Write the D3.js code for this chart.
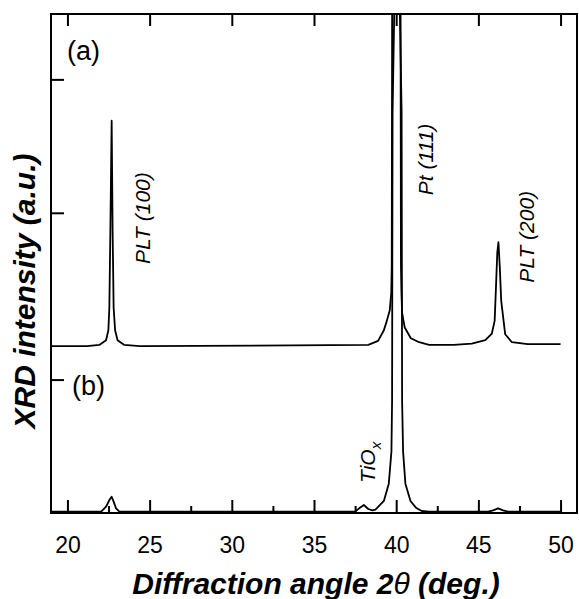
<!DOCTYPE html>
<html>
<head>
<meta charset="utf-8">
<script src="https://cdn.jsdelivr.net/npm/d3@7"></script>
<style>
  html, body { margin: 0; padding: 0; background: #fff; }
  svg { display: block; }
  text { font-family: "Liberation Sans", Arial, sans-serif; fill: #000; }
</style>
</head>
<body>
<div id="chart"></div>
<script>
// diffraction angle 2θ (deg.) and intensity (a.u.)
const angleA = [19, 21.2, 21.94, 22.35, 22.49, 22.55, 22.61, 22.69, 22.75, 22.81, 22.9, 23.05, 23.46, 24.4,
  38.3, 38.9, 39.25, 39.43, 39.61, 39.7, 39.73, 39.76, 39.98, 40.26, 40.29, 40.32, 40.36, 40.52, 40.89, 41.4, 42.0,
  43.5, 44.6, 45.42, 45.82, 45.99, 46.07, 46.15, 46.22, 46.3, 46.39, 46.63, 47.04, 48.0, 50];
const intensityA = [0, 0, 0.01, 0.045, 0.12, 0.29, 0.85, 1.69, 0.85, 0.29, 0.12, 0.045, 0.01, 0,
  0.01, 0.04, 0.12, 0.19, 0.27, 0.4, 0.6, 3, 5, 3, 0.6, 0.4, 0.25, 0.14, 0.06, 0.03, 0.01,
  0.01, 0.02, 0.045, 0.095, 0.19, 0.44, 0.7, 0.78, 0.6, 0.34, 0.09, 0.03, 0.015, 0.015];
const offsetA = 1.25;

const angleB = [19, 22.05, 22.35, 22.55, 22.69, 22.81, 22.96, 23.16,
  37.5, 37.75, 38.03, 38.3, 38.55, 38.74, 39.25, 39.55, 39.71, 39.75, 39.78, 40.05, 40.33, 40.36, 40.42, 40.56, 40.87, 41.2, 41.55, 42.0,
  45.6, 45.9, 46.2, 46.5, 46.8, 50];
const intensityB = [0.01, 0.01, 0.047, 0.097, 0.122, 0.085, 0.035, 0.01,
  0.01, 0.035, 0.06, 0.03, 0.02, 0.025, 0.09, 0.22, 0.46, 0.84, 3.0, 5, 3.0, 0.84, 0.46, 0.22, 0.09, 0.04, 0.015, 0.01,
  0.01, 0.02, 0.035, 0.02, 0.01, 0.01];

const majorTicks = [20, 25, 30, 35, 40, 45, 50];
const minorTicks = [22.5, 27.5, 32.5, 37.5, 42.5, 47.5];
const yTicks = [1, 2.25, 3.25];

const width = 579, height = 599;
const mLeft = 51, mRight = 577, mTop = 14, mBottom = 513;

const svg = d3.select("#chart").append("svg")
  .attr("width", width)
  .attr("height", height);

const x = d3.scaleLinear().domain([19, 51]).range([mLeft, mRight]);
const y = d3.scaleLinear().domain([0, 3.74]).range([mBottom, mTop]);

svg.append("clipPath").attr("id", "plot")
  .append("rect")
  .attr("x", mLeft).attr("y", mTop)
  .attr("width", mRight - mLeft).attr("height", mBottom - mTop);

const line = d3.line()
  .x(d => x(d[0]))
  .y(d => y(d[1]));

const seriesA = angleA.map((a, i) => [a, intensityA[i] + offsetA]);
const seriesB = angleB.map((a, i) => [a, intensityB[i]]);

svg.append("g").attr("clip-path", "url(#plot)")
  .selectAll("path")
  .data([seriesA, seriesB])
  .enter()
  .append("path")
  .attr("d", line)
  .attr("fill", "none")
  .attr("stroke", "#000")
  .attr("stroke-width", 1.8)
  .attr("stroke-linejoin", "round");

// axes - ticks all point inward, the frame is drawn separately
function styleAxis(g) {
  g.select(".domain").remove();
  g.selectAll(".tick line").attr("stroke", "#000").attr("stroke-width", 2);
  g.selectAll(".tick text")
    .attr("fill", "#000")
    .style("font-family", "'Liberation Sans', Arial, sans-serif")
    .style("font-size", "23px");
}

svg.append("g")
  .attr("transform", `translate(0,${mBottom})`)
  .call(d3.axisBottom(x).tickValues(majorTicks).tickSize(-13).tickPadding(24).tickFormat(d3.format("d")))
  .call(styleAxis);

svg.append("g")
  .attr("transform", `translate(0,${mBottom})`)
  .call(d3.axisBottom(x).tickValues(minorTicks).tickSize(-7).tickFormat(""))
  .call(styleAxis);

svg.append("g")
  .attr("transform", `translate(0,${mTop})`)
  .call(d3.axisTop(x).tickValues(majorTicks).tickSize(-12).tickFormat(""))
  .call(styleAxis);

svg.append("g")
  .attr("transform", `translate(${mLeft},0)`)
  .call(d3.axisLeft(y).tickValues(yTicks).tickSize(-13).tickFormat(""))
  .call(styleAxis);

// frame
svg.append("rect")
  .attr("x", mLeft).attr("y", mTop)
  .attr("width", mRight - mLeft).attr("height", mBottom - mTop)
  .attr("fill", "none")
  .attr("stroke", "#000")
  .attr("stroke-width", 2);

// axis titles
const xt = svg.append("text")
  .attr("x", 316).attr("y", 594)
  .attr("text-anchor", "middle")
  .style("font-size", "30px")
  .style("font-weight", "bold")
  .style("font-style", "italic");
xt.append("tspan").text("Diffraction angle 2");
xt.append("tspan").style("font-weight", "normal").text("θ");
xt.append("tspan").text(" (deg.)");

svg.append("text")
  .attr("transform", "translate(35,291) rotate(-90)")
  .attr("text-anchor", "middle")
  .style("font-size", "30px")
  .style("font-weight", "bold")
  .style("font-style", "italic")
  .text("XRD intensity (a.u.)");

// panel letters
svg.append("text").attr("x", 67).attr("y", 60).style("font-size", "27px").text("(a)");
svg.append("text").attr("x", 72).attr("y", 395).style("font-size", "27px").text("(b)");

// peak labels
const peakLabels = [
  { text: "PLT (100)", a: 25.04, v: 2.21 },
  { text: "Pt (111)", a: 42.22, v: 2.65 },
  { text: "PLT (200)", a: 48.36, v: 2.07 }
];
svg.selectAll(".pk").data(peakLabels).enter().append("text")
  .attr("class", "pk")
  .attr("transform", p => `translate(${x(p.a)},${y(p.v)}) rotate(-90)`)
  .attr("text-anchor", "middle")
  .style("font-size", "21px")
  .style("font-style", "italic")
  .text(p => p.text);

const tio = svg.append("text")
  .attr("transform", `translate(${x(38.7)},${y(0.225)}) rotate(-90)`)
  .style("font-size", "21px")
  .style("font-style", "italic");
tio.append("tspan").text("TiO");
tio.append("tspan").attr("dy", 6).style("font-size", "15px").text("x");
</script>
</body>
</html>
